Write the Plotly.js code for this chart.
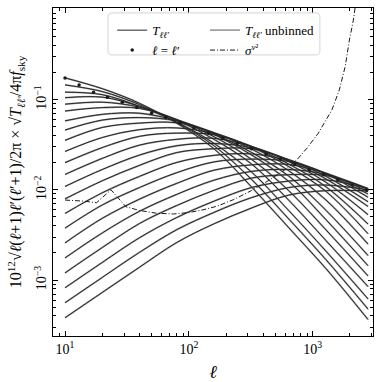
<!DOCTYPE html>
<html>
<head>
<meta charset="utf-8">
<script src="https://cdn.plot.ly/plotly-3.0.1.min.js"></script>
<style>
  html, body { margin: 0; padding: 0; background: #fff; }
  #chart { width: 382px; height: 382px; }
</style>
</head>
<body>
<div id="chart"></div>
<script>
// multipoles where each window curve is sampled
const ELL = [10, 20, 40, 80, 160, 320, 640, 1280, 2800];

// one row per band l' (low l' first), values at ELL
const T_BINNED = [
  [0.174, 0.132, 0.0909, 0.0546, 0.0284, 0.0108, 0.00381, 0.00134, 0.000365],
  [0.1455, 0.1227, 0.0879, 0.0557, 0.0307, 0.0131, 0.00476, 0.00168, 0.000476],
  [0.1208, 0.1133, 0.0841, 0.0562, 0.0327, 0.0158, 0.0059, 0.00209, 0.000617],
  [0.1049, 0.1064, 0.0842, 0.059, 0.0362, 0.0194, 0.00768, 0.00274, 0.000847],
  [0.0889, 0.0935, 0.0823, 0.0598, 0.0387, 0.0218, 0.00981, 0.0036, 0.00111],
  [0.0747, 0.0815, 0.0798, 0.0601, 0.041, 0.0244, 0.0124, 0.00467, 0.00144],
  [0.0581, 0.0686, 0.0706, 0.0583, 0.0415, 0.026, 0.0142, 0.00593, 0.00187],
  [0.046, 0.0593, 0.0632, 0.0581, 0.0428, 0.0283, 0.0163, 0.00771, 0.0025],
  [0.0353, 0.0491, 0.0549, 0.0553, 0.0429, 0.0299, 0.0181, 0.0096, 0.00326],
  [0.0266, 0.038, 0.0464, 0.0485, 0.0418, 0.0301, 0.0193, 0.0108, 0.00417],
  [0.02, 0.0294, 0.0392, 0.0425, 0.0407, 0.0304, 0.0206, 0.0121, 0.0053],
  [0.0148, 0.0223, 0.0313, 0.0363, 0.0372, 0.0301, 0.0212, 0.0132, 0.00655],
  [0.0109, 0.0168, 0.0243, 0.0308, 0.0326, 0.0293, 0.0215, 0.0141, 0.00737],
  [0.00793, 0.0126, 0.0187, 0.0259, 0.0285, 0.0285, 0.0216, 0.015, 0.00827],
  [0.00547, 0.00927, 0.0141, 0.0201, 0.0241, 0.025, 0.0211, 0.0151, 0.00899],
  [0.00376, 0.00679, 0.0106, 0.0155, 0.0204, 0.0219, 0.0206, 0.0153, 0.00956],
  [0.00258, 0.00483, 0.00789, 0.0118, 0.0165, 0.0189, 0.0191, 0.0152, 0.0101],
  [0.00176, 0.00333, 0.00579, 0.00891, 0.0128, 0.016, 0.0168, 0.0148, 0.0103],
  [0.0012, 0.00229, 0.00424, 0.00671, 0.00989, 0.0135, 0.0147, 0.0144, 0.0103],
  [0.000821, 0.00157, 0.00295, 0.00494, 0.00749, 0.0106, 0.0125, 0.0129, 0.0103],
  [0.00056, 0.00107, 0.00203, 0.00362, 0.00563, 0.00818, 0.0106, 0.0113, 0.01],
  [0.000382, 0.00073, 0.00139, 0.00261, 0.00421, 0.00628, 0.00873, 0.00978, 0.00974],
];

// l = l' points (band centres)
const BIN_CENTERS = [10, 13, 17, 22, 29, 38, 50, 65, 85, 110, 144, 188, 246, 321, 420, 548, 716, 935, 1221, 1595, 2083, 2720];
const BIN_PEAKS = [0.174, 0.1455, 0.1208, 0.1064, 0.0935, 0.0815, 0.0706, 0.0632, 0.0553, 0.0485, 0.0425, 0.0372,
                   0.0326, 0.0285, 0.025, 0.0219, 0.0191, 0.0168, 0.0147, 0.0129, 0.0113, 0.0099];

// sigma^{v^2}
const SIGMA_ELL = [10, 14, 18, 23.5, 31, 40, 55, 75, 100, 130, 170, 230, 320, 450, 600, 745, 900, 1110, 1430, 1640, 1830, 1980, 2130, 2200, 2300];
const SIGMA_VAL = [0.0077, 0.0075, 0.0072, 0.0100, 0.0065, 0.0059, 0.0055, 0.0054, 0.0056, 0.006, 0.0066, 0.0078,
                   0.0098, 0.0129, 0.0168, 0.0215, 0.029, 0.0424, 0.0768, 0.128, 0.232, 0.458, 0.76, 1.03, 1.6];

const X_TICKS = [10, 100, 1000];
const X_LABELS = ['10<sup>1</sup>', '10<sup>2</sup>', '10<sup>3</sup>'];
const X_MINOR = [8, 9, 20, 30, 40, 50, 60, 70, 80, 90, 200, 300, 400, 500, 600, 700, 800, 900, 2000, 3000];
const Y_TICKS = [0.001, 0.01, 0.1];
const Y_LABELS = ['10<sup>−3</sup>', '10<sup>−2</sup>', '10<sup>−1</sup>'];
const Y_MINOR = [0.0003, 0.0004, 0.0005, 0.0006, 0.0007, 0.0008, 0.0009,
                 0.002, 0.003, 0.004, 0.005, 0.006, 0.007, 0.008, 0.009,
                 0.02, 0.03, 0.04, 0.05, 0.06, 0.07, 0.08, 0.09,
                 0.2, 0.3, 0.4, 0.5, 0.6, 0.7, 0.8, 0.9];

const FONT = 'Liberation Serif, DejaVu Serif, serif';

const traces = [];

T_BINNED.forEach((row, i) => {
  traces.push({
    x: ELL, y: row, type: 'scatter', mode: 'lines',
    line: { color: '#a0a0a0', width: 1.8, shape: 'spline' },
    name: '<i>T</i><sub><i>ℓℓ′</i></sub> unbinned', legend: 'legend2',
    showlegend: i === 0, hoverinfo: 'skip',
  });
});

T_BINNED.forEach((row, i) => {
  traces.push({
    x: ELL, y: row, type: 'scatter', mode: 'lines',
    line: { color: '#262626', width: 1, shape: 'spline' },
    name: '<i>T</i><sub><i>ℓℓ′</i></sub>', legend: 'legend',
    showlegend: i === 0, hoverinfo: 'skip',
  });
});

traces.push({
  x: SIGMA_ELL, y: SIGMA_VAL, type: 'scatter', mode: 'lines',
  line: { color: '#1a1a1a', width: 1, dash: '5px,2px,1px,2px' },
  name: '<i>σ</i><sup><i>v</i>²</sup>', legend: 'legend2',
});

traces.push({
  x: BIN_CENTERS, y: BIN_PEAKS, type: 'scatter', mode: 'markers',
  marker: { color: '#1a1a1a', size: 3.5 },
  name: '<i>ℓ</i> = <i>ℓ</i>′', legend: 'legend',
});

const axisBase = {
  type: 'log', showgrid: false, zeroline: false,
  showline: true, linecolor: '#000', linewidth: 1, mirror: 'allticks',
  ticks: 'inside', ticklen: 5, tickcolor: '#000', tickwidth: 1,
  tickmode: 'array',
  tickfont: { family: FONT, size: 14, color: '#000' },
};

const layout = {
  width: 382, height: 382,
  margin: { l: 53, r: 9, t: 8, b: 46 },
  paper_bgcolor: '#fff', plot_bgcolor: '#fff',
  font: { family: FONT, color: '#000' },
  xaxis: {
    ...axisBase,
    range: [0.903, 3.487],
    tickvals: X_TICKS, ticktext: X_LABELS,
    minor: { tickmode: 'array', tickvals: X_MINOR, ticks: 'inside', ticklen: 3, tickcolor: '#000' },
    title: { text: '<i>ℓ</i>', font: { family: FONT, size: 18 }, standoff: 9 },
  },
  yaxis: {
    ...axisBase,
    range: [-3.62, 0.015],
    tickvals: Y_TICKS, ticktext: Y_LABELS, tickangle: -90,
    minor: { tickmode: 'array', tickvals: Y_MINOR, ticks: 'inside', ticklen: 3, tickcolor: '#000' },
    title: {
      text: '10<sup>12</sup>√<i>ℓ</i>(<i>ℓ</i>+1)<i>ℓ</i>′(<i>ℓ</i>′+1)/2π × √<i>T</i><sub><i>ℓℓ′</i></sub>/4π<i>f</i><sub>sky</sub>',
      font: { family: FONT, size: 16 }, standoff: 5,
    },
  },
  legend: {
    x: 0.185, y: 0.978, xanchor: 'left', yanchor: 'top',
    bgcolor: 'rgba(0,0,0,0)', borderwidth: 0, itemwidth: 30, tracegroupgap: 0,
    font: { family: FONT, size: 13 },
  },
  legend2: {
    x: 0.475, y: 0.978, xanchor: 'left', yanchor: 'top',
    bgcolor: 'rgba(0,0,0,0)', borderwidth: 0, itemwidth: 30, tracegroupgap: 0,
    font: { family: FONT, size: 13 },
  },
  shapes: [{
    type: 'path', xref: 'paper', yref: 'paper', layer: 'above',
    path: 'M 0.1845,0.985 L 0.8215,0.985 Q 0.834,0.985 0.834,0.9728 L 0.834,0.8692 Q 0.834,0.857 0.8215,0.857 ' +
          'L 0.1845,0.857 Q 0.172,0.857 0.172,0.8692 L 0.172,0.9728 Q 0.172,0.985 0.1845,0.985 Z',
    fillcolor: 'rgba(255,255,255,0.8)', line: { color: '#d4d4d4', width: 1 },
  }],
  showlegend: true,
};

Plotly.newPlot('chart', traces, layout, { displayModeBar: false, staticPlot: true });
</script>
</body>
</html>
